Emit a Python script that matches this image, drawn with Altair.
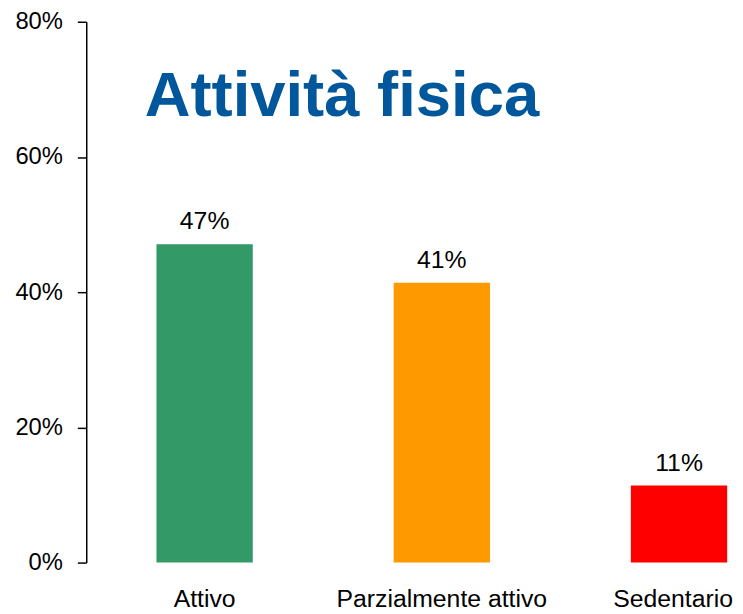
import altair as alt
import pandas as pd

categories = ["Attivo", "Parzialmente attivo", "Sedentario"]
values = [0.471, 0.414, 0.114]
colors = ["#339966", "#FF9900", "#FF0000"]

df = pd.DataFrame({"cat": categories, "val": values, "col": colors})

FONT = "Liberation Sans"

x = alt.X(
    "cat:N",
    sort=categories,
    title=None,
    scale=alt.Scale(range=[0, 718], paddingInner=0.594, paddingOuter=0.296),
    axis=alt.Axis(
        labelAngle=0, domain=False, ticks=False, labelPadding=24, labelLimit=400,
        labelFontSize=25, labelFont=FONT, labelColor="black",
        labelOffset=alt.condition("datum.value == 'Sedentario'", alt.value(-6), alt.value(0)),
    ),
)
y = alt.Y(
    "val:Q",
    title=None,
    scale=alt.Scale(domain=[0, 0.8]),
    axis=alt.Axis(
        values=[0, 0.2, 0.4, 0.6, 0.8], format=".0%", grid=False,
        domainColor="black", domainWidth=1.5, tickColor="black", tickWidth=1.5,
        tickSize=9, labelPadding=15, labelFontSize=24, labelFont=FONT,
        labelColor="black",
    ),
)

bars = alt.Chart(df).mark_bar().encode(
    x=x, y=y, color=alt.Color("col:N", scale=None, legend=None)
)
labels = alt.Chart(df).mark_text(
    baseline="alphabetic", dy=-15, fontSize=25, font=FONT, color="black"
).encode(x=x, y=y, text=alt.Text("val:Q", format=".0%"))

chart = (
    alt.layer(bars, labels)
    .properties(
        width=655,
        height=546,
        autosize=alt.AutoSizeParams(type="none"),
        padding={"left": 79, "top": 11, "right": 0, "bottom": 48},
        title=alt.TitleParams(
            "Attività fisica", anchor="start", orient="top", frame="group",
            font=FONT, fontSize=64, fontWeight="bold", color="#00579B",
            baseline="alphabetic", offset=0, dx=59, dy=171,
        ),
    )
    .configure_view(stroke=None)
)

chart.save("out.html", embed_options={"renderer": "svg", "actions": False})
